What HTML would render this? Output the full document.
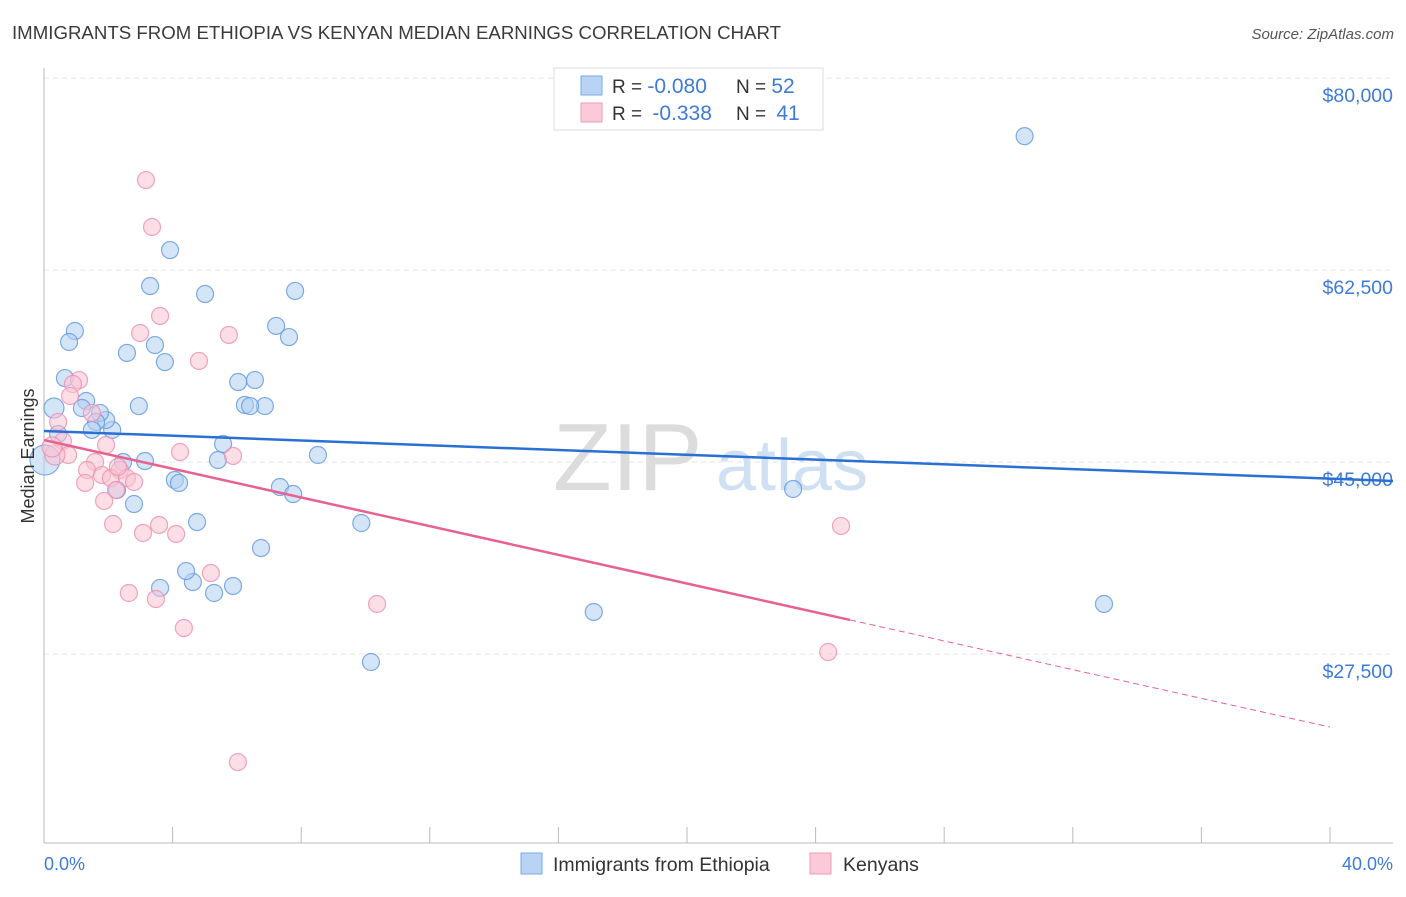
<!DOCTYPE html>
<html><head><meta charset="utf-8"><style>
body{margin:0;background:#fff;font-family:"Liberation Sans",sans-serif;}
svg text{font-family:"Liberation Sans",sans-serif;}
</style></head><body>
<svg id="chart" width="1406" height="892" viewBox="0 0 1406 892" xmlns="http://www.w3.org/2000/svg">
<text x="12" y="39" font-size="18" fill="#3a3a3a" textLength="769" lengthAdjust="spacingAndGlyphs">IMMIGRANTS FROM ETHIOPIA VS KENYAN MEDIAN EARNINGS CORRELATION CHART</text>
<text x="1394" y="39" font-size="15" fill="#555" text-anchor="end" font-style="italic">Source: ZipAtlas.com</text>
<g id="grid"></g>
<g>
<text x="553" y="490" font-size="96" font-family="Liberation Serif" fill="#dcdcdc">ZIP</text>
<text x="716" y="490" font-size="72" fill="#cfe0f3">atlas</text>
</g>
<g id="axes"></g>
<g id="pts"></g>
<g id="trends"></g>
<text transform="translate(34,456) rotate(-90)" font-size="18" fill="#333" text-anchor="middle">Median Earnings</text>
<text x="44" y="870" font-size="18" fill="#3d7bd9">0.0%</text>
<text x="1393" y="870" font-size="18" fill="#3d7bd9" text-anchor="end">40.0%</text>
<g>
<rect x="554" y="68" width="269" height="62" fill="#fff" stroke="#ddd"/>
<rect x="581" y="76" width="21" height="19" fill="#b9d3f5" stroke="#7aa7e6"/>
<rect x="581" y="103" width="21" height="19" fill="#fbc9d8" stroke="#f09bb5"/>
<text x="612" y="93" font-size="19" fill="#333">R = <tspan fill="#3d7bd9" font-size="21">-0.080</tspan></text>
<text x="736" y="93" font-size="19" fill="#333">N = <tspan fill="#3d7bd9" font-size="21">52</tspan></text>
<text x="612" y="120" font-size="19" fill="#333">R = <tspan fill="#3d7bd9" dx="5" font-size="21">-0.338</tspan></text>
<text x="736" y="120" font-size="19" fill="#333">N = <tspan fill="#3d7bd9" dx="5" font-size="21">41</tspan></text>
</g>
<g>
<rect x="521" y="853" width="21" height="21" fill="#b9d3f5" stroke="#7aa7e6"/>
<text x="553" y="871" font-size="19.5" fill="#333">Immigrants from Ethiopia</text>
<rect x="810" y="853" width="21" height="21" fill="#fbc9d8" stroke="#f09bb5"/>
<text x="843" y="871" font-size="19.5" fill="#333">Kenyans</text>
</g>
</svg>
<script>
const yTicks=[27500,45000,62500,80000];
const yTickLabels=["$27,500","$45,000","$62,500","$80,000"];
const xTicks=[0,4,8,12,16,20,24,28,32,36,40];
const ethX=[30.5,32.97,23.3,17.1,10.17,7.81,7.62,7.22,8.52,9.87,7.34,7.75,6.75,6.56,6.04,6.87,6.25,6.41,5.57,5.41,5.01,5.88,5.29,4.63,4.42,4.76,3.92,3.30,3.45,3.76,4.07,4.20,3.61,3.14,2.58,2.95,2.46,2.80,2.27,2.12,1.93,1.74,1.62,1.49,1.31,1.18,0.96,0.78,0.65,0.31,0.44,0.03];
const ethY=[74700,32060,42540,31330,26770,60590,56390,57400,45640,39440,42720,42080,37160,52470,52290,50100,50200,50100,46640,45180,60310,33700,33060,34060,35060,39530,64320,61040,55660,54110,43360,43090,33520,45090,54940,50100,45000,41170,42450,47920,48830,49470,48650,47920,50560,49920,56940,55940,52650,49920,47550,45180];
const kenX=[3.17,3.36,3.61,2.99,5.75,4.82,1.09,0.90,0.81,1.49,0.44,0.59,4.23,5.88,0.75,1.59,0.34,2.36,1.34,1.80,2.08,2.58,2.80,1.28,2.24,1.87,2.15,3.58,3.08,4.11,24.79,2.64,3.48,5.19,10.36,4.35,24.39,6.03,0.25,2.30,1.93];
const kenY=[70700,66420,58310,56760,56580,54210,52470,52110,51020,49470,48650,46910,45910,45550,45640,45000,45640,44270,44270,43810,43540,43540,43180,43090,42450,41450,39350,39260,38530,38440,39170,33060,32510,34880,32060,29870,27680,17650,46370,44550,46550];
const ethTrend=[47830,43270]; // values at x=0 and x=41.96
const kenTrend=[47000,20840]; // values at x=0 and x=40
const kenSolidEnd=25.07;
const NS="http://www.w3.org/2000/svg";
const sx=p=>44+p*32.15;
const sy=v=>462-(v-45000)*0.010971;
function mk(tag,attrs,parent){const e=document.createElementNS(NS,tag);for(const k in attrs)e.setAttribute(k,attrs[k]);parent.appendChild(e);return e;}
const grid=document.getElementById('grid'),axes=document.getElementById('axes'),pts=document.getElementById('pts'),tr=document.getElementById('trends');
yTicks.forEach((v,i)=>{
 const l=mk('line',{x1:44,x2:1393,y1:sy(v),y2:sy(v),stroke:'#e3e3e3','stroke-dasharray':'5,4'},grid);
 
 
 const t=mk('text',{x:1393,y:sy(v)+24,'font-size':19.5,fill:'#3d7bd9','text-anchor':'end'},grid);
 t.textContent=yTickLabels[i];
 
 
});
const ya=mk('line',{x1:44,x2:44,y1:68,y2:843,stroke:'#bbb'},axes);


const xa=mk('line',{x1:44,x2:1393,y1:843,y2:843,stroke:'#bbb'},axes);


xTicks.forEach(p=>{
 const t=mk('line',{x1:sx(p),x2:sx(p),y1:827,y2:843,stroke:'#bbb'},axes);
 
 
});
function dots(X,Y,fill,stroke,name){
 X.forEach((x,i)=>{
  const r=x<0.1?15:(x<0.4?10:8.5);
  const c=mk('circle',{cx:sx(x),cy:sy(Y[i]),r:r,fill:fill,'fill-opacity':0.55,stroke:stroke,'stroke-width':1.2,'stroke-opacity':0.8},pts);
  
  
 });
}
dots(ethX,ethY,'#b3cff3','#5f97e0','ethiopia-point');
dots(kenX,kenY,'#f9c3d3','#ee8fae','kenyan-point');
const bl=mk('line',{x1:sx(0),y1:sy(ethTrend[0]),x2:sx(41.96),y2:sy(ethTrend[1]),stroke:'#2a6fd4','stroke-width':2.5},tr);


const kv=p=>kenTrend[0]+(kenTrend[1]-kenTrend[0])*p/40;
const pl=mk('line',{x1:sx(0),y1:sy(kv(0)),x2:sx(kenSolidEnd),y2:sy(kv(kenSolidEnd)),stroke:'#e8628f','stroke-width':2.5},tr);


const pd=mk('line',{x1:sx(kenSolidEnd),y1:sy(kv(kenSolidEnd)),x2:sx(40),y2:sy(kv(40)),stroke:'#e8628f','stroke-width':1,'stroke-dasharray':'6,4'},tr);


</script>
</body></html>
